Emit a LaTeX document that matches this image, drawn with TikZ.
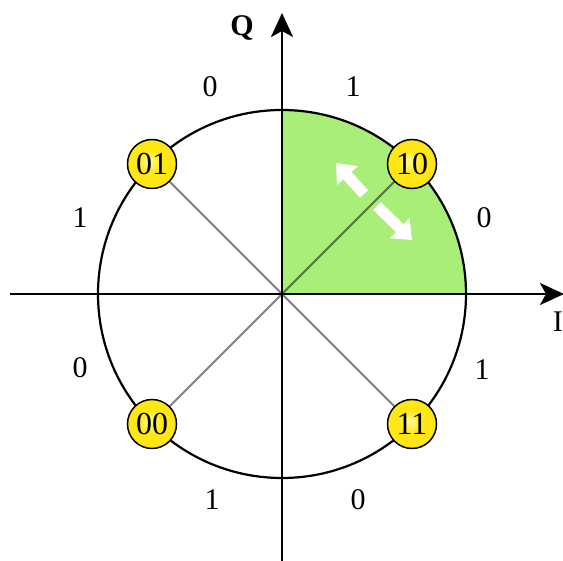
\documentclass[tikz,border=0pt]{standalone}
\usepackage{fontspec}
\setmainfont{Liberation Serif}
\usetikzlibrary{arrows.meta}
\definecolor{sectorgreen}{RGB}{168,238,120}
\definecolor{ballin}{RGB}{255,255,150}
\definecolor{ballmid}{RGB}{255,230,20}
\definecolor{ballout}{RGB}{225,150,0}
\pgfdeclareradialshading{yball}{\pgfpoint{-3bp}{3bp}}{%
  color(0bp)=(ballin); color(12bp)=(ballmid); color(30bp)=(ballmid); color(50bp)=(ballout)}
\tikzset{
  ballnode/.style={circle, draw=black, line width=1.5pt, minimum size=49pt, inner sep=0pt,
    shading=yball, font=\fontsize{32}{32}\selectfont},
  bitlabel/.style={font=\fontsize{30}{30}\selectfont},
  axisline/.style={line width=2.5pt, -{Stealth[length=24pt,width=22pt,inset=6pt]}},
  spoke/.style={black, opacity=0.5, line width=2pt},
  movearrow/.style={white, line width=11pt, -{Triangle[length=17pt,width=27pt]}}
}
\begin{document}
\begin{tikzpicture}[x=1pt,y=-1pt]
\useasboundingbox (0,0) rectangle (563,561);
\coordinate (o) at (282,294);
\fill[sectorgreen] (o) -- ++(184,0) arc[start angle=0,end angle=-90,radius=184] -- cycle;
\draw[line width=2.2pt] (o) circle[radius=184];
\coordinate (xs) at (10,294);
\coordinate (xe) at (564,294);
\coordinate (ys) at (282,562);
\coordinate (ye) at (282,13);
\draw[axisline] (xs) -- (xe);
\draw[axisline] (ys) -- (ye);
\node[ballnode] (n10) at (412,164) {10};
\node[ballnode] (n01) at (152,164) {01};
\node[ballnode] (n00) at (152,424) {00};
\node[ballnode] (n11) at (412,424) {11};
\draw[spoke] (o) -- (n10);
\draw[spoke] (o) -- (n01);
\draw[spoke] (o) -- (n00);
\draw[spoke] (o) -- (n11);
\coordinate (a1s) at (364,194);
\coordinate (a1e) at (336,163);
\coordinate (a2s) at (377,206);
\coordinate (a2e) at (412,240);
\draw[movearrow] (a1s) -- (a1e);
\draw[movearrow] (a2s) -- (a2e);
\node[font=\bfseries\fontsize{30}{30}\selectfont] (q) at (242,28) {Q};
\node[bitlabel, anchor=east, inner sep=0pt] (i) at (563,322) {I};
\node[bitlabel] (l1) at (210,87) {0};
\node[bitlabel] (l2) at (353,87) {1};
\node[bitlabel] (l3) at (80,218) {1};
\node[bitlabel] (l4) at (484,218) {0};
\node[bitlabel] (l5) at (80,368) {0};
\node[bitlabel] (l6) at (482,370) {1};
\node[bitlabel] (l7) at (212,500) {1};
\node[bitlabel] (l8) at (358,500) {0};
\end{tikzpicture}
\end{document}
